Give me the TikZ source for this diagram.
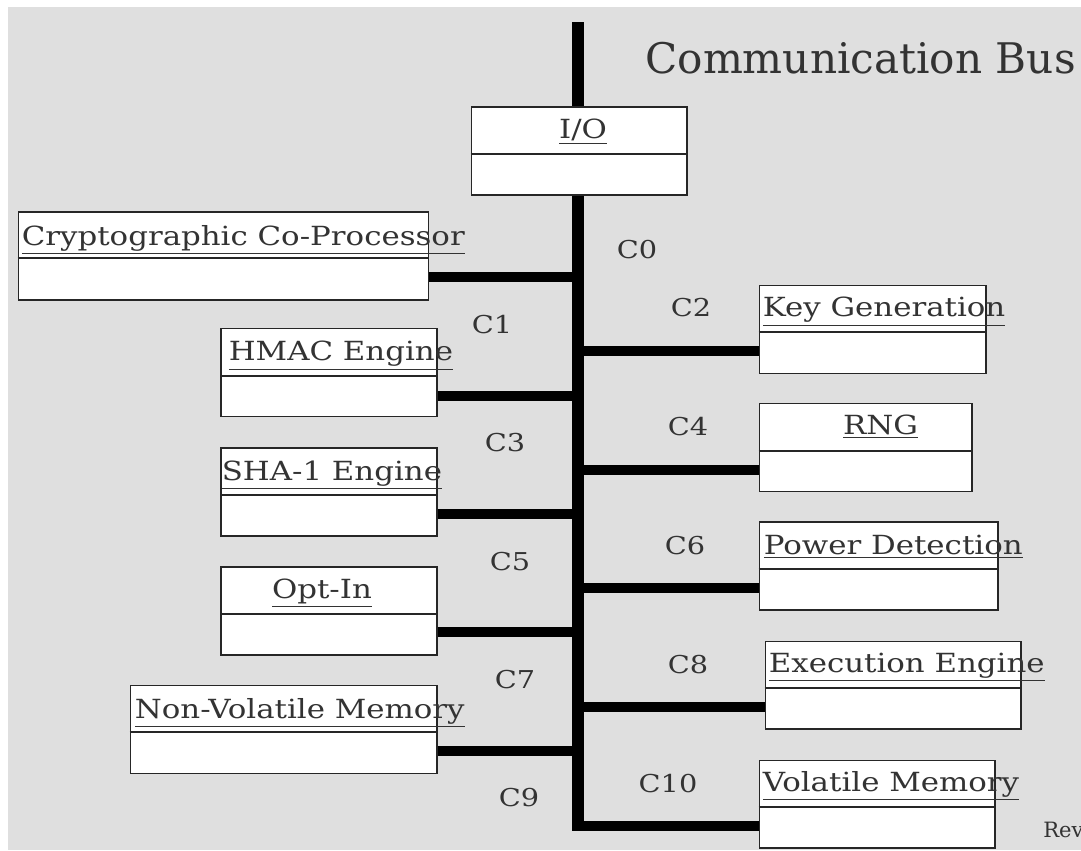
\documentclass[tikz,border=0pt]{standalone}
\usepackage{fontspec}
\setmainfont{DejaVu Serif}
\newfontfamily\wideserif[FakeStretch=1.17]{DejaVu Serif}
\definecolor{bgray}{HTML}{DFDFDF}
\definecolor{ink}{HTML}{333333}
\tikzset{
	box/.style={draw=black!85, fill=white, semithick, inner sep=0pt, minimum height=1.76cm},
	ttl/.style={anchor=base west, inner sep=0pt, text=ink, font=\wideserif\fontsize{15}{15}\selectfont},
	clbl/.style={text=ink, inner sep=0pt, font=\wideserif\fontsize{14}{14}\selectfont},
	bus/.style={line width=0.24cm},
	link/.style={line width=0.2cm}
}
\begin{document}
\begin{tikzpicture}[x=0.02cm, y=-0.02cm]
	\useasboundingbox (0,0) rectangle (1081,850);
	\fill[white] (0,0) rectangle (1081,850);
	\fill[bgray] (8,7) rectangle (1081,850); %fondo
	\coordinate (bustop) at (578,22);
	\coordinate (busbot) at (578,831);
	\draw[bus] (bustop) -- (busbot); %bus
	\node[anchor=west, text=ink, font=\fontsize{24}{24}\selectfont, inner sep=0pt] (title) at (645,58) {Communication Bus};
	% bloques
	\node[box, minimum width=4.32cm] (io) at (579,151) {};
	\node[box, minimum width=8.22cm] (crypto) at (223.5,256) {};
	\node[box, minimum width=4.54cm] (keygen) at (872.5,329.5) {};
	\node[box, minimum width=4.32cm] (hmac) at (329,372.5) {};
	\node[box, minimum width=4.26cm] (rng) at (865.5,447.5) {};
	\node[box, minimum width=4.32cm] (sha) at (329,492) {};
	\node[box, minimum width=4.78cm] (power) at (878.5,566) {};
	\node[box, minimum width=4.32cm] (optin) at (329,611) {};
	\node[box, minimum width=5.12cm] (exec) at (893,685) {};
	\node[box, minimum width=6.14cm] (nvm) at (283.5,729.5) {};
	\node[box, minimum width=4.72cm] (vm) at (877,804) {};
	% divisiones
	\draw[black!85, semithick] ([yshift=-0.06cm]io.west) -- ([yshift=-0.06cm]io.east);
	\draw[black!85, semithick] ([yshift=-0.04cm]crypto.west) -- ([yshift=-0.04cm]crypto.east);
	\draw[black!85, semithick] ([yshift=-0.05cm]keygen.west) -- ([yshift=-0.05cm]keygen.east);
	\draw[black!85, semithick] ([yshift=-0.07cm]hmac.west) -- ([yshift=-0.07cm]hmac.east);
	\draw[black!85, semithick] ([yshift=-0.07cm]rng.west) -- ([yshift=-0.07cm]rng.east);
	\draw[black!85, semithick] ([yshift=-0.06cm]sha.west) -- ([yshift=-0.06cm]sha.east);
	\draw[black!85, semithick] ([yshift=-0.06cm]power.west) -- ([yshift=-0.06cm]power.east);
	\draw[black!85, semithick] ([yshift=-0.06cm]optin.west) -- ([yshift=-0.06cm]optin.east);
	\draw[black!85, semithick] ([yshift=-0.06cm]exec.west) -- ([yshift=-0.06cm]exec.east);
	\draw[black!85, semithick] ([yshift=-0.05cm]nvm.west) -- ([yshift=-0.05cm]nvm.east);
	\draw[black!85, semithick] ([yshift=-0.06cm]vm.west) -- ([yshift=-0.06cm]vm.east);
	% nombres
	\node[ttl, anchor=base] (iot) at ([shift={(4,32)}]io.north) {\underline{I/O}};
	\node[ttl] (cryptot) at ([shift={(4,34)}]crypto.north west) {\underline{Cryptographic Co-Processor}};
	\node[ttl] (keygent) at ([shift={(4,32)}]keygen.north west) {\underline{Key Generation}};
	\node[ttl] (hmact) at ([shift={(8,33)}]hmac.north west) {\underline{HMAC Engine}};
	\node[ttl, anchor=base] (rngt) at ([shift={(15,32)}]rng.north) {\underline{RNG}};
	\node[ttl] (shat) at ([shift={(1,33)}]sha.north west) {\underline{SHA-1 Engine}};
	\node[ttl] (powert) at ([shift={(5,33)}]power.north west) {\underline{Power Detection}};
	\node[ttl, anchor=base] (optint) at ([shift={(-7,32)}]optin.north) {\underline{Opt-In}};
	\node[ttl] (exect) at ([shift={(4,32)}]exec.north west) {\underline{Execution Engine}};
	\node[ttl] (nvmt) at ([shift={(5,33)}]nvm.north west) {\underline{Non-Volatile Memory}};
	\node[ttl] (vmt) at ([shift={(4,32)}]vm.north west) {\underline{Volatile Memory}};
	% conexiones
	\draw[link] ([yshift=-0.42cm]crypto.east) -- ([yshift=-0.42cm]crypto.east -| bustop);
	\draw[link] ([yshift=-0.43cm]keygen.west) -- ([yshift=-0.43cm]keygen.west -| bustop);
	\draw[link] ([yshift=-0.47cm]hmac.east) -- ([yshift=-0.47cm]hmac.east -| bustop);
	\draw[link] ([yshift=-0.45cm]rng.west) -- ([yshift=-0.45cm]rng.west -| bustop);
	\draw[link] ([yshift=-0.44cm]sha.east) -- ([yshift=-0.44cm]sha.east -| bustop);
	\draw[link] ([yshift=-0.44cm]power.west) -- ([yshift=-0.44cm]power.west -| bustop);
	\draw[link] ([yshift=-0.42cm]optin.east) -- ([yshift=-0.42cm]optin.east -| bustop);
	\draw[link] ([yshift=-0.44cm]exec.west) -- ([yshift=-0.44cm]exec.west -| bustop);
	\draw[link] ([yshift=-0.43cm]nvm.east) -- ([yshift=-0.43cm]nvm.east -| bustop);
	\draw[link] ([yshift=-0.44cm]vm.west) -- ([yshift=-0.44cm]vm.west -| busbot);
	% canales
	\node[clbl] (c0) at (637,250) {C0};
	\node[clbl] (c1) at (492,325) {C1};
	\node[clbl] (c2) at (691,308) {C2};
	\node[clbl] (c3) at (505,443) {C3};
	\node[clbl] (c4) at (688,427) {C4};
	\node[clbl] (c5) at (510,562) {C5};
	\node[clbl] (c6) at (685,546) {C6};
	\node[clbl] (c7) at (515,680) {C7};
	\node[clbl] (c8) at (688,665) {C8};
	\node[clbl] (c9) at (519,798) {C9};
	\node[clbl] (c10) at (668,784) {C10};
	\node[anchor=west, text=ink, inner sep=0pt, font=\fontsize{12}{12}\selectfont] (rev) at (1043,830) {Rev};
\end{tikzpicture}
\end{document}
